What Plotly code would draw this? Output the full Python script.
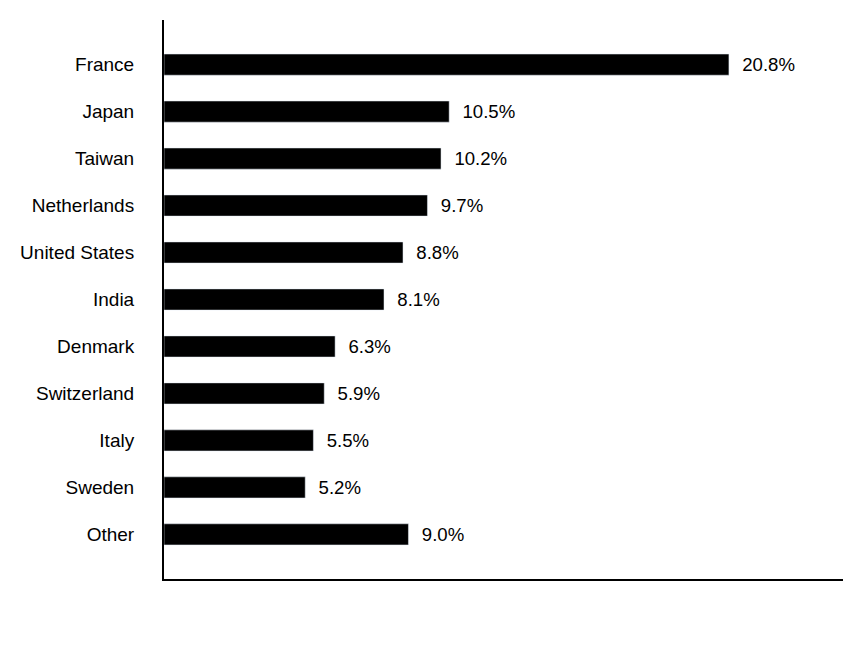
import plotly.graph_objects as go

countries = ["France","Japan","Taiwan","Netherlands","United States","India","Denmark","Switzerland","Italy","Sweden","Other"]
values = [20.8,10.5,10.2,9.7,8.8,8.1,6.3,5.9,5.5,5.2,9.0]
labels = [f"  {v:.1f}%" for v in values]

fig = go.Figure(go.Bar(
    x=values, y=countries, orientation="h", marker_color="black", width=0.45,
    text=labels, textposition="outside", cliponaxis=False,
    textfont=dict(size=22, color="black", family="Liberation Sans, Arial"),
))
fig.update_layout(
    width=864, height=660, plot_bgcolor="white", paper_bgcolor="white",
    margin=dict(l=150, r=29, t=12, b=89), showlegend=False,
    font=dict(family="Liberation Sans, Arial", color="black"),
    xaxis=dict(range=[0, 25], showticklabels=False, showgrid=False, zeroline=False,
               showline=True, linecolor="black", linewidth=2, ticks=""),
    yaxis=dict(autorange=False, range=[10.95, -0.95], showgrid=False, zeroline=False,
               showline=True, linecolor="black", linewidth=2, ticks="",
               tickfont=dict(size=19), ticklabelstandoff=24),
)
fig.write_html("out.html")
